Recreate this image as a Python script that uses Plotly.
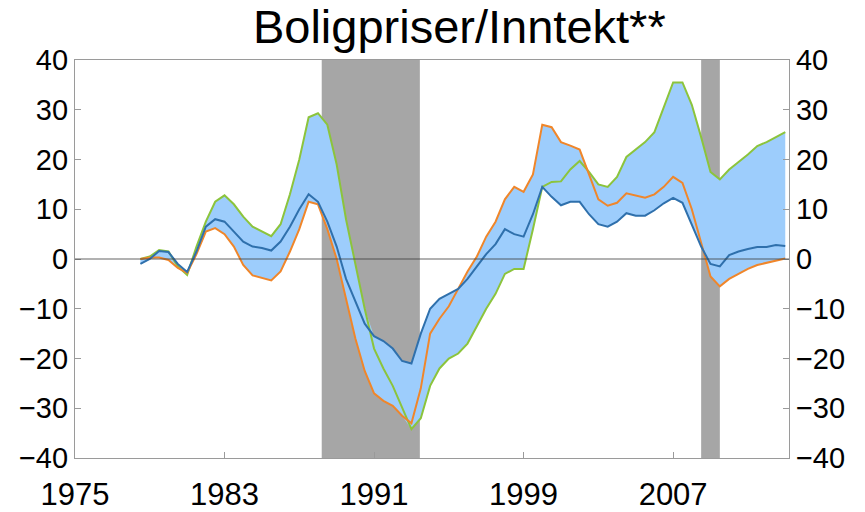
import plotly.graph_objects as go

# Half-year time axis (decimal years)
years = [1978.5 + 0.5 * i for i in range(70)]

green = [0, 0.5, 1.8, 1.5, -1.5, -3.2, 2.5, 7.5, 11.5, 12.8,
         11, 8.5, 6.5, 5.5, 4.6, 7, 13, 20, 28.5, 29.3,
         27, 19, 8, -1, -10, -18, -22, -25.5, -30, -34.2,
         -32, -25.5, -22, -20, -19, -17, -13.5, -10, -7, -3,
         -2, -2, 6, 14.5, 15.5, 15.6, 18, 19.7, 17.5, 15,
         14.5, 16.5, 20.5, 22, 23.5, 25.5, 30.5, 35.5, 35.5, 31,
         24.5, 17.5, 16, 18, 19.5, 21, 22.7, 23.5, 24.5, 25.5]

orange = [0, 0.3, 0.3, -0.2, -1.8, -2.8, 1, 5.5, 6.2, 5,
          2.5, -1.2, -3.3, -3.8, -4.3, -2.5, 1.5, 6, 11.5, 11,
          6, 0, -8, -16, -22.5, -27, -28.5, -29.5, -31.5, -33,
          -26, -15, -12, -9.5, -6, -2.5, 0.5, 4.5, 7.5, 12,
          14.5, 13.5, 17, 27, 26.5, 23.5, 22.8, 22, 17, 12,
          10.7, 11.3, 13.2, 12.7, 12.3, 13, 14.5, 16.5, 15.3, 10,
          3, -3.5, -5.5, -4, -3, -2, -1.2, -0.8, -0.3, 0.1]

blue = [-1, 0, 1.6, 1.4, -1, -2.6, 1.5, 6.5, 8, 7.5,
        5.5, 3.5, 2.5, 2.2, 1.7, 3.5, 6.5, 10, 13, 11.5,
        7.5, 2.5, -4, -8.5, -13, -15.5, -16.5, -18, -20.5, -21,
        -15, -10, -8, -7, -6, -4, -1.5, 1, 3, 6,
        5, 4.5, 9, 14.5, 12.5, 10.8, 11.5, 11.5, 9, 7,
        6.5, 7.5, 9.2, 8.7, 8.7, 9.8, 11.2, 12.3, 11.3, 7,
        2.5, -1, -1.5, 0.8, 1.5, 2, 2.4, 2.4, 2.8, 2.6]

# Recession periods (shaded)
recessions = [(1988.2, 1993.45), (2008.5, 2009.5)]

x_ticks = [1975, 1983, 1991, 1999, 2007]
y_ticks = [-40, -30, -20, -10, 0, 10, 20, 30, 40]

upper = [max(a, b, c) for a, b, c in zip(green, orange, blue)]
lower = [min(a, b, c) for a, b, c in zip(green, orange, blue)]

fig = go.Figure()

fig.add_trace(go.Scatter(x=years, y=lower, mode="lines", line=dict(width=0),
                         showlegend=False, hoverinfo="skip"))
fig.add_trace(go.Scatter(x=years, y=upper, mode="lines", line=dict(width=0),
                         fill="tonexty", fillcolor="#9dcdfc",
                         showlegend=False, hoverinfo="skip"))
fig.add_trace(go.Scatter(x=years, y=green, mode="lines",
                         line=dict(color="#8cc43c", width=2), showlegend=False))
fig.add_trace(go.Scatter(x=years, y=orange, mode="lines",
                         line=dict(color="#f0862a", width=2), showlegend=False))
fig.add_trace(go.Scatter(x=years, y=blue, mode="lines",
                         line=dict(color="#2f70ac", width=2), showlegend=False))
# Invisible trace to anchor the right-hand axis
fig.add_trace(go.Scatter(x=[years[0]], y=[0], yaxis="y2", mode="markers",
                         marker=dict(opacity=0), showlegend=False, hoverinfo="skip"))

for x0, x1 in recessions:
    fig.add_shape(type="rect", xref="x", yref="paper", x0=x0, x1=x1, y0=0, y1=1,
                  fillcolor="#a6a6a6", line=dict(width=0), layer="below")

fig.add_shape(type="line", xref="paper", yref="y", x0=0, x1=1, y0=0, y1=0,
              line=dict(color="rgba(60,60,60,0.8)", width=1.2), layer="above")

font_family = "Liberation Sans, Arial, sans-serif"
axis_common = dict(showgrid=False, zeroline=False, showline=True, linecolor="#9a9a9a",
                   linewidth=1.2, ticks="inside", ticklen=6, tickcolor="#9a9a9a",
                   automargin=False)
y_font = dict(family=font_family, size=29, color="black")
x_font = dict(family=font_family, size=31, color="black")
y_text = [str(v).replace("-", "\u2212") for v in y_ticks]

fig.update_layout(
    width=865, height=512,
    margin=dict(l=75, r=76, t=60, b=54),
    paper_bgcolor="white", plot_bgcolor="white",
    title=dict(text="Boligpriser/Inntekt**", x=0.531, xanchor="center",
               y=0.949, yanchor="middle", yref="container",
               font=dict(family=font_family, size=47, color="black")),
    xaxis=dict(range=[1975, 2013.2], tickvals=x_ticks, ticktext=[str(v) for v in x_ticks],
               mirror=True, tickfont=x_font, ticklabelstandoff=9, **axis_common),
    yaxis=dict(range=[-40, 40], tickvals=y_ticks, ticktext=y_text,
               mirror=False, tickfont=y_font, **axis_common),
    yaxis2=dict(range=[-40, 40], tickvals=y_ticks, ticktext=y_text,
                overlaying="y", side="right", tickfont=y_font, **axis_common),
)

fig.write_html("out.html")
